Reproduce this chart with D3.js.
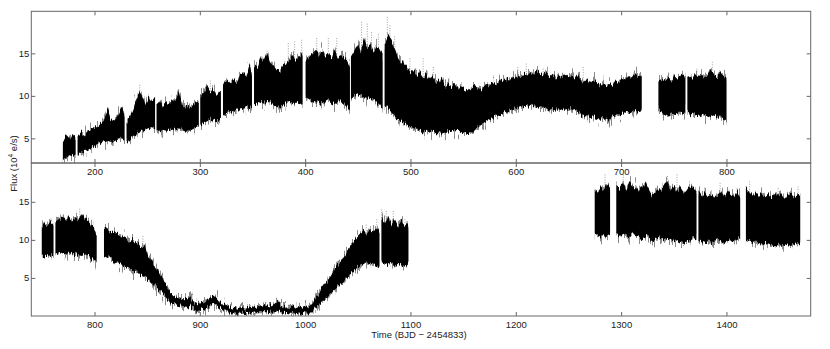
<!DOCTYPE html>
<html>
<head>
<meta charset="utf-8">
<script src="https://cdn.jsdelivr.net/npm/d3@7"></script>
<style>
  body { margin: 0; background: #fff; }
  svg { display: block; }
  text { font-family: 'Liberation Sans', Arial, sans-serif; fill: #222; }
</style>
</head>
<body>
<svg id="chart" width="830" height="349"></svg>
<script>
// [time, lower envelope, upper envelope] in 10^4 e/s, null marks a data gap
const topSamples = [
  [170, 2.3, 4.6], [173, 2.8, 5.2], [176, 3.0, 4.8], [179, 2.9, 5.4], [182, 3.1, 5.0], [183, null, null],
  [184, 3.0, 5.0], [187, 3.3, 5.6], [190, 3.5, 5.3], [193, 3.6, 5.8], [196, 3.8, 5.9], [199, 4.0, 6.2],
  [202, 4.2, 6.3], [205, 4.3, 6.6], [208, 4.5, 7.0], [211, 4.6, 7.8], [213, 4.7, 8.4], [215, 4.6, 7.3],
  [218, 4.6, 7.0], [221, 4.8, 7.4], [224, 4.9, 8.2], [226, 5.0, 8.8], [228.5, 4.8, 7.6], [229.5, null, null],
  [230.5, 4.4, 6.8], [234, 5.0, 7.6], [237, 5.3, 8.6], [240, 5.6, 9.6], [243, 5.8, 10.6], [245, 5.8, 10.0],
  [248, 6.0, 9.0], [251, 6.2, 9.8], [254, 6.3, 9.3], [257.5, 6.2, 9.9], [258, null, null],
  [259, 6.0, 9.0], [262, 5.8, 9.4], [265, 6.0, 8.8], [268, 5.9, 9.2], [271, 5.9, 9.0], [274, 6.0, 9.6],
  [277, 6.2, 9.4], [280, 6.2, 10.6], [283, 6.0, 9.0], [286, 5.8, 8.6], [289, 5.8, 8.8], [292, 6.1, 8.7],
  [295, 6.3, 9.2], [299, 6.4, 9.3], [299.5, null, null],
  [300.5, 6.6, 9.9], [304, 6.8, 10.4], [307, 7.0, 11.2], [310, 7.2, 10.4], [313, 7.1, 10.8], [316, 7.0, 10.2],
  [320, 7.2, 10.6], [321, null, null],
  [322, 7.8, 11.2], [326, 8.0, 11.8], [329, 8.2, 11.4], [332, 8.2, 12.0], [335, 8.4, 11.6], [338, 8.5, 12.4],
  [341, 8.6, 12.8], [344, 8.7, 12.2], [347, 8.6, 13.6], [349.5, 8.9, 12.6], [350.5, null, null],
  [351.5, 9.0, 13.8], [355, 9.1, 13.4], [358, 9.3, 14.6], [361, 9.2, 14.0], [364, 9.4, 15.2], [367, 9.3, 14.0],
  [370, 9.0, 13.6], [373, 8.7, 13.0], [376, 8.6, 12.8], [379, 8.8, 13.6], [382, 9.2, 13.8], [385, 9.4, 14.2],
  [388, 9.0, 14.8], [391, 9.2, 14.0], [394, 9.3, 14.6], [397.5, 9.1, 15.0], [399, null, null],
  [400.5, 9.8, 14.0], [404, 9.6, 14.6], [407, 9.4, 15.0], [410, 9.2, 15.4], [413, 9.3, 14.8], [416, 9.1, 15.2],
  [419, 9.4, 14.6], [422, 9.6, 15.0], [425, 9.2, 14.4], [428, 9.0, 15.6], [431, 9.3, 14.6], [434, 9.4, 14.8],
  [437, 9.0, 14.4], [440, 8.6, 14.2], [442.5, 8.0, 13.6], [443, null, null],
  [443.5, 9.6, 14.6], [447, 10.0, 15.4], [450, 10.2, 16.0], [453, 10.0, 15.2], [456, 9.8, 16.6], [459, 9.8, 15.6],
  [462, 9.6, 16.0], [465, 9.6, 15.2], [468, 9.2, 15.8], [471, 8.8, 15.4], [473.5, 8.6, 15.0], [474.5, null, null],
  [475.5, 8.8, 16.2], [479, 8.4, 17.2], [482, 8.0, 16.4], [485, 7.6, 15.6], [488, 7.2, 14.6], [491, 7.0, 14.0],
  [494, 6.8, 13.6], [497, 6.6, 13.2], [500, 6.4, 12.8], [503, 6.2, 13.0], [506, 6.0, 12.4], [509, 6.0, 12.8],
  [512, 5.8, 12.2], [515, 5.9, 12.6], [518, 5.7, 11.8], [521, 5.8, 12.4], [524, 5.6, 11.6], [527, 5.6, 11.8],
  [530, 5.5, 12.0], [533, 5.6, 11.2], [536, 5.8, 11.6], [539, 5.9, 11.0], [542, 5.8, 11.4], [545, 5.9, 10.8],
  [548, 5.6, 11.2], [551, 5.7, 10.6], [554, 5.5, 10.4], [557, 5.5, 10.8], [560, 5.8, 11.2], [563, 6.2, 11.0],
  [566, 6.6, 10.8], [569, 6.8, 11.0], [572, 7.0, 11.4], [575, 7.2, 11.2], [578, 7.4, 11.6], [581, 7.6, 11.4],
  [584, 7.8, 11.8], [587, 7.9, 11.6], [590, 8.1, 12.0], [593, 8.2, 11.8], [596, 8.4, 12.2], [599, 8.5, 12.0],
  [602, 8.6, 12.4], [605, 8.7, 12.2], [608, 8.8, 12.6], [611, 8.9, 12.4], [614, 8.8, 12.8], [617, 8.9, 12.5],
  [620, 8.8, 13.0], [623, 8.7, 12.6], [626, 8.6, 12.4], [629, 8.5, 12.8], [632, 8.4, 12.2], [635, 8.5, 12.6],
  [638, 8.4, 12.0], [641, 8.4, 12.4], [644, 8.3, 12.2], [647, 8.4, 12.6], [650, 8.5, 12.2], [653, 8.4, 12.4],
  [656, 8.2, 12.0], [659, 8.1, 12.6], [662, 7.8, 11.8], [665, 7.6, 11.6], [668, 7.6, 12.0], [671, 7.5, 11.4],
  [674, 7.6, 11.8], [677, 7.4, 11.6], [680, 7.3, 11.2], [683, 7.4, 11.6], [686, 7.2, 11.0], [689, 7.1, 11.4],
  [692, 7.6, 11.2], [695, 7.7, 11.8], [698, 7.8, 11.6], [701, 7.9, 12.0], [704, 8.0, 11.8], [707, 8.1, 12.4],
  [710, 8.1, 12.0], [713, 8.2, 12.6], [716, 8.2, 12.2], [719.5, 8.3, 12.4], [727, null, null],
  [735.5, 8.2, 11.8], [739, 8.0, 12.0], [742, 7.8, 11.6], [745, 7.7, 12.2], [748, 7.8, 11.8], [751, 7.9, 12.4],
  [754, 8.0, 12.0], [757, 8.0, 12.6], [761, 8.2, 12.2], [762, null, null],
  [763, 8.0, 12.4], [767, 7.8, 12.0], [770, 7.7, 12.6], [773, 7.8, 12.2], [776, 7.6, 12.6], [779, 7.7, 12.2],
  [782, 7.8, 12.4], [785, 7.6, 13.2], [788, 7.7, 12.6], [791, 7.5, 12.2], [794, 7.6, 12.8], [797, 7.2, 12.4],
  [800, 7.0, 12.0]
]

const bottomSamples = [
  [750, 8.0, 11.6], [752, 7.8, 12.2], [755, 8.0, 11.8], [758, 7.8, 12.4], [761, 7.9, 12.0], [762, null, null],
  [763, 8.2, 12.4], [767, 8.4, 12.8], [770, 8.2, 13.2], [773, 8.0, 12.6], [776, 8.4, 13.0], [779, 8.2, 12.4],
  [782, 8.3, 13.0], [785, 8.1, 12.6], [788, 8.0, 13.4], [791, 8.2, 12.8], [794, 7.8, 12.4], [797, 7.6, 12.0],
  [800, 7.2, 11.6], [802, 6.9, 10.8], [805, null, null],
  [809, 8.0, 11.8], [812, 7.8, 11.4], [815, 7.6, 11.2], [818, 7.3, 11.0], [821, 7.0, 10.6], [824, 6.8, 10.8],
  [827, 6.6, 10.2], [830, 6.4, 10.4], [833, 6.2, 9.8], [836, 6.0, 10.0], [839, 5.8, 9.4], [842, 5.6, 9.6],
  [845, 5.4, 9.0], [848, 5.2, 9.4], [851, 4.8, 7.6], [854, 4.4, 7.2], [857, 4.0, 6.6], [860, 3.6, 6.0],
  [863, 3.2, 5.2], [866, 2.8, 4.6], [869, 2.2, 3.8], [872, 1.8, 3.0], [875, 1.6, 2.6], [878, 1.5, 2.4],
  [881, 1.4, 2.3], [884, 1.3, 2.2], [887, 1.2, 2.2], [890, 1.3, 2.5], [893, 1.1, 2.0], [896, 0.9, 1.8],
  [899, 0.7, 1.6], [902, 0.9, 1.7], [905, 1.0, 1.9], [908, 1.2, 2.2], [911, 1.5, 2.6], [914, 1.6, 2.7],
  [917, 1.3, 2.2], [920, 1.0, 1.7], [923, 0.8, 1.5], [926, 0.6, 1.3], [929, 0.5, 1.2], [932, 0.4, 1.1],
  [935, 0.3, 1.0], [938, 0.3, 1.0], [941, 0.3, 1.1], [944, 0.4, 1.0], [947, 0.4, 1.2], [950, 0.4, 1.2],
  [953, 0.5, 1.2], [956, 0.5, 1.3], [959, 0.5, 1.2], [962, 0.5, 1.3], [965, 0.5, 1.4], [968, 0.6, 1.4],
  [971, 0.6, 1.6], [974, 0.8, 2.0], [977, 0.6, 1.5], [980, 0.4, 1.2], [983, 0.4, 1.1], [986, 0.3, 1.1],
  [989, 0.3, 1.2], [992, 0.4, 1.1], [995, 0.3, 1.2], [998, 0.4, 1.1], [1001, 0.3, 1.2], [1004, 0.4, 1.3],
  [1007, 0.6, 1.6], [1010, 1.0, 2.4], [1013, 1.4, 3.0], [1016, 1.8, 3.6], [1019, 2.2, 4.2], [1022, 2.6, 4.8],
  [1025, 3.0, 5.4], [1028, 3.4, 6.2], [1031, 3.8, 6.8], [1034, 4.2, 7.2], [1037, 4.6, 7.8], [1040, 5.0, 8.6],
  [1043, 5.6, 9.0], [1046, 6.0, 9.8], [1049, 6.4, 10.4], [1052, 6.6, 10.8], [1055, 6.8, 11.2], [1058, 6.9, 10.8],
  [1061, 6.8, 11.4], [1064, 7.0, 11.0], [1067, 6.6, 11.6], [1070.5, 6.6, 11.0], [1071.5, null, null],
  [1072.5, 7.2, 12.8], [1076, 7.0, 12.2], [1079, 6.8, 13.0], [1082, 7.0, 12.0], [1085, 6.6, 12.6], [1088, 7.0, 11.8],
  [1091, 6.8, 12.4], [1094, 6.6, 12.0], [1097, 6.8, 12.2], [1098, 7.0, 11.8], [1180, null, null],
  [1275, 10.8, 16.6], [1278, 10.6, 16.2], [1281, 10.4, 17.0], [1284, 10.8, 16.4], [1287, 10.6, 17.4],
  [1289.5, 10.8, 16.8], [1292, null, null],
  [1295.5, 10.6, 17.2], [1299, 10.4, 16.8], [1302, 10.8, 17.4], [1305, 10.6, 16.6], [1308, 10.4, 17.6],
  [1311, 10.8, 16.8], [1314, 10.6, 17.2], [1317, 10.4, 16.4], [1320, 10.2, 17.0], [1323, 10.4, 17.4],
  [1326, 10.6, 16.6], [1329, 10.0, 15.8], [1332, 9.8, 16.2], [1335, 10.2, 16.8], [1338, 10.4, 16.4],
  [1341, 10.0, 17.2], [1344, 10.2, 17.8], [1347, 10.0, 16.6], [1350, 9.8, 17.0], [1353, 10.0, 16.4],
  [1356, 9.8, 16.8], [1359, 9.6, 16.2], [1362, 9.8, 16.6], [1365, 10.0, 17.2], [1368, 10.2, 16.8],
  [1371.5, 10.4, 16.4], [1372.5, null, null],
  [1373.5, 10.0, 16.4], [1377, 9.8, 15.8], [1380, 9.6, 16.2], [1383, 9.8, 15.6], [1386, 9.6, 16.0],
  [1389, 9.8, 15.4], [1392, 10.0, 16.0], [1395, 9.8, 16.4], [1398, 9.6, 15.6], [1401, 9.8, 16.6],
  [1404, 10.0, 16.0], [1407, 9.8, 15.8], [1410, 10.0, 16.2], [1413, 10.2, 15.6], [1416, null, null],
  [1418.5, 10.0, 16.8], [1422, 9.8, 16.2], [1425, 9.6, 15.8], [1428, 9.8, 16.4], [1431, 9.6, 15.8],
  [1434, 9.4, 16.2], [1437, 9.6, 15.6], [1440, 9.4, 16.0], [1443, 9.2, 15.6], [1446, 9.0, 16.2],
  [1449, 9.2, 15.8], [1452, 9.4, 16.0], [1455, 9.2, 15.4], [1458, 9.4, 15.8], [1461, 9.2, 16.2],
  [1464, 9.4, 15.6], [1467, 9.6, 15.8], [1470, 9.4, 16.0]
]

// isolated outliers above the band: [time, flux]
const topSpikes = [
  [243, 11.3], [280, 10.8], [310, 11.8], [347, 13.8], [364, 15.3], [384, 16.2], [390, 16.4],
  [396.7, 16.6], [411, 16.8], [422, 16.8], [430, 16.8], [453.6, 18.7], [459, 18.5], [463, 17.5],
  [469.5, 17.3], [478, 19.3], [480.5, 18.3], [485, 17.0], [499.5, 14.4], [512, 14.4], [521.7, 13.4],
  [602, 13.4], [610, 13.8], [626, 13.2], [664, 13.4], [715, 13.0], [772, 13.2], [786.6, 14.0]
]
const bottomSpikes = [
  [770, 13.3], [786, 14.1], [846, 10.5], [854, 7.4], [1058, 12.0], [1068, 12.7], [1072.6, 14.0],
  [1077, 13.8], [1083.7, 13.8], [1094.8, 12.7], [1284.7, 18.6], [1302, 18.6], [1344, 18.4],
  [1353, 18.6], [1365, 17.7], [1394, 17.5], [1410, 16.8], [1422, 17.7], [1449, 16.8], [1468, 17.0]
]

const topTimeTicks = [200, 300, 400, 500, 600, 700, 800]
const bottomTimeTicks = [800, 900, 1000, 1100, 1200, 1300, 1400]
const fluxTicks = [5, 10, 15]

const left = 31.3
const right = 810.7
const frameColor = '#666'

const svg = d3.select('#chart')

// vertical-only jitter so the band edges look like dense photometry rather than a smooth fill
function addRoughFilter (id, freq, scale, seed) {
  const f = svg.append('defs').append('filter')
    .attr('id', id)
    .attr('x', '-1%').attr('y', '-20%')
    .attr('width', '102%').attr('height', '140%')
  f.append('feTurbulence')
    .attr('type', 'fractalNoise')
    .attr('baseFrequency', freq)
    .attr('numOctaves', 2)
    .attr('seed', seed)
    .attr('result', 'noise')
  f.append('feColorMatrix')
    .attr('in', 'noise')
    .attr('type', 'matrix')
    .attr('values', '0 0 0 0 0.5  0 1 0 0 0  0 0 0 0 0  0 0 0 0 1')
    .attr('result', 'shift')
  f.append('feDisplacementMap')
    .attr('in', 'SourceGraphic')
    .attr('in2', 'shift')
    .attr('scale', scale)
    .attr('xChannelSelector', 'R')
    .attr('yChannelSelector', 'G')
}
addRoughFilter('rough-core', '0.7 0.04', 10, 4)
addRoughFilter('rough-halo', '1.1 0.06', 30, 9)

function drawPanel (cfg) {
  const x = d3.scaleLinear().domain(cfg.xDomain).range([left, right])
  const y = d3.scaleLinear().domain(cfg.yDomain).range([cfg.bottom, cfg.top])
  const g = svg.append('g')

  const clipId = `clip-${cfg.name}`
  svg.select('defs').append('clipPath').attr('id', clipId)
    .append('rect')
    .attr('x', left).attr('y', cfg.top)
    .attr('width', right - left).attr('height', cfg.bottom - cfg.top)

  const plot = g.append('g').attr('clip-path', `url(#${clipId})`)

  const area = d3.area()
    .defined(d => d[1] !== null)
    .x(d => x(d[0]))
    .y0(d => y(d[1]))
    .y1(d => y(d[2]))

  // outliers, drawn from the flux value down into the band
  const bisect = d3.bisector(d => d[0]).center
  plot.append('g').selectAll('line')
    .data(cfg.spikes)
    .enter()
    .append('line')
    .attr('x1', d => x(d[0]))
    .attr('x2', d => x(d[0]))
    .attr('y1', d => y(d[1]))
    .attr('y2', d => {
      const s = cfg.samples[bisect(cfg.samples, d[0])]
      return y(s[2] !== null ? s[2] : d[1] - 3)
    })
    .attr('stroke', '#777')
    .attr('stroke-width', 0.7)
    .attr('stroke-dasharray', '1,1.5')

  plot.append('path')
    .datum(cfg.samples)
    .attr('d', area)
    .attr('fill', '#8a8a8a')
    .attr('filter', 'url(#rough-halo)')

  plot.append('path')
    .datum(cfg.samples)
    .attr('d', area)
    .attr('fill', '#000')
    .attr('filter', 'url(#rough-core)')

  // ticks pointing inward on all four sides
  const bottomAxis = d3.axisBottom(x).tickValues(cfg.timeTicks).tickSize(-4).tickSizeOuter(0)
    .tickPadding(5).tickFormat(d3.format('d'))
  const topAxis = d3.axisTop(x).tickValues(cfg.timeTicks).tickSize(-4).tickSizeOuter(0).tickFormat('')
  const leftAxis = d3.axisLeft(y).tickValues(fluxTicks).tickSize(-4).tickSizeOuter(0).tickPadding(2)
  const rightAxis = d3.axisRight(y).tickValues(fluxTicks).tickSize(-4).tickSizeOuter(0).tickFormat('')

  const axes = [
    [bottomAxis, `translate(0,${cfg.bottom})`],
    [topAxis, `translate(0,${cfg.top})`],
    [leftAxis, `translate(${left},0)`],
    [rightAxis, `translate(${right},0)`]
  ]
  axes.forEach(([axis, transform]) => {
    const a = g.append('g').attr('transform', transform).call(axis)
    a.select('.domain').remove()
    a.selectAll('line').attr('stroke', frameColor)
    a.selectAll('text')
      .style('font-family', "'Liberation Sans', Arial, sans-serif")
      .style('font-size', '9.5px')
      .attr('fill', '#222')
  })

  g.append('rect')
    .attr('x', left)
    .attr('y', cfg.top)
    .attr('width', right - left)
    .attr('height', cfg.bottom - cfg.top)
    .attr('fill', 'none')
    .attr('stroke', frameColor)
    .attr('stroke-width', 1)
}

drawPanel({
  name: 'top',
  samples: topSamples,
  spikes: topSpikes,
  timeTicks: topTimeTicks,
  xDomain: [140, 880],
  yDomain: [2.1, 19.95],
  top: 11.3,
  bottom: 163
})

drawPanel({
  name: 'bottom',
  samples: bottomSamples,
  spikes: bottomSpikes,
  timeTicks: bottomTimeTicks,
  xDomain: [740, 1480],
  yDomain: [0, 20.1],
  top: 163,
  bottom: 316
})

const yLabel = svg.append('text')
  .attr('transform', 'translate(16.5,163.5) rotate(-90)')
  .attr('text-anchor', 'middle')
  .style('font-size', '9.5px')
yLabel.append('tspan').text('Flux (10')
yLabel.append('tspan').attr('dy', -3.5).style('font-size', '6.5px').text('4')
yLabel.append('tspan').attr('dy', 3.5).text(' e/s)')

svg.append('text')
  .attr('x', (left + right) / 2 - 2)
  .attr('y', 338)
  .attr('text-anchor', 'middle')
  .style('font-size', '9.5px')
  .text('Time (BJD \u2212 2454833)')
</script>
</body>
</html>
